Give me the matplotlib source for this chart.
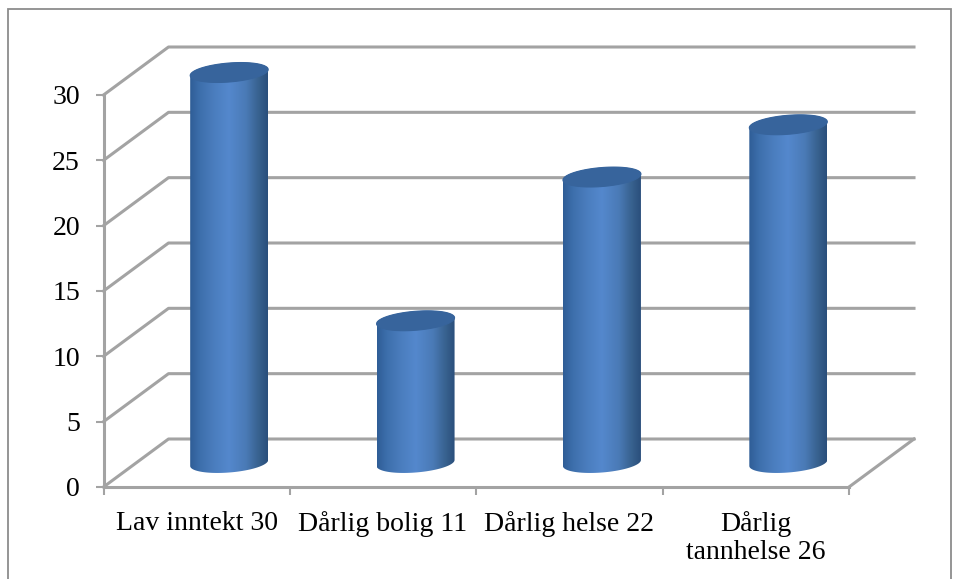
import numpy as np
import matplotlib
matplotlib.use("Agg")
import matplotlib.pyplot as plt
from matplotlib.colors import LinearSegmentedColormap
from matplotlib.patches import PathPatch, Rectangle
from matplotlib.path import Path

# Data
categories = ["Lav inntekt 30", "Dårlig bolig 11", "Dårlig helse 22", "Dårlig\ntannhelse 26"]
values = [30, 11, 22, 26]
y_ticks = [0, 5, 10, 15, 20, 25, 30]

W, H = 960, 579
LEFT, RIGHT = 103.5, 849.0
BOTTOM, TOP = 487.0, 95.0
GREY = "#a3a3a3"

px_x = (RIGHT - LEFT) / len(categories)  # pixels per category
px_y = (BOTTOM - TOP) / max(y_ticks)     # pixels per value unit
DEPTH_X = 65 / px_x
DEPTH_Y = 48 / px_y

plt.rcParams["font.family"] = ["Liberation Serif", "DejaVu Serif"]

fig = plt.figure(figsize=(W / 100, H / 100), dpi=100)
ax = fig.add_axes([LEFT / W, 1 - BOTTOM / H, (RIGHT - LEFT) / W, (BOTTOM - TOP) / H])
ax.patch.set_visible(False)

# outer chart frame
fig.add_artist(Rectangle((8 / W, -0.01), 943 / W, 1.01 - 9 / H, transform=fig.transFigure,
                         facecolor="none", edgecolor="#8c8c8c", linewidth=1.3))

n = len(categories)
ax.set_xlim(0, n)
ax.set_ylim(0, max(y_ticks))

for s in ["top", "right"]:
    ax.spines[s].set_visible(False)
for s in ["left", "bottom"]:
    ax.spines[s].set_color(GREY)
    ax.spines[s].set_linewidth(2.2)

ax.set_yticks(y_ticks)
ax.set_xticks(range(n + 1))
ax.set_xticklabels([])
ax.set_xticks(np.arange(n) + 0.5, categories, minor=True)
ax.tick_params(axis="x", which="major", length=6, width=1.5, color=GREY)
ax.tick_params(axis="x", which="minor", length=0, labelsize=20, pad=17)
ax.tick_params(axis="y", length=6, width=1.5, color=GREY, labelsize=20, pad=11)

# walls and floor of the 3D box
for v in y_ticks:
    ax.plot([0, DEPTH_X, n + DEPTH_X], [v, v + DEPTH_Y, v + DEPTH_Y],
            color=GREY, lw=2.2, clip_on=False, zorder=1)
ax.plot([n, n + DEPTH_X], [0, DEPTH_Y], color=GREY, lw=2.2, clip_on=False, zorder=1)

cmap = LinearSegmentedColormap.from_list(
    "cyl",
    [(0, "#2f5d96"), (0.12, "#3c6eab"), (0.3, "#4a7dbd"), (0.5, "#5488cd"),
     (0.72, "#4a7ab6"), (0.88, "#38628f"), (1, "#2a4f7c")])
grad = np.linspace(0, 1, 256).reshape(1, -1)

A = 39.0   # ellipse half width, px
B = 9.5    # ellipse half height, px
TILT = 3.0 # right side of the ellipse sits higher, px
t = np.linspace(0, 2 * np.pi, 100)

for i, v in enumerate(values):
    cx = i + 0.5 + DEPTH_X / 2
    y0 = DEPTH_Y / 2
    y1 = v + DEPTH_Y / 2 - 1.5 / px_y
    ex = A / px_x * np.cos(t)
    ey = (B * np.sin(t) + TILT * np.cos(t)) / px_y

    # side of the cylinder: top ellipse outline, then lower half of the base
    tb = np.linspace(np.pi, 2 * np.pi, 50)
    bx = cx + A / px_x * np.cos(tb)
    by = y0 + (B * np.sin(tb) + TILT * np.cos(tb)) / px_y
    tt = np.linspace(0, np.pi, 50)
    tx = cx + A / px_x * np.cos(tt)
    ty = y1 + (B * np.sin(tt) + TILT * np.cos(tt)) / px_y
    side = Path(np.column_stack([np.r_[bx, tx], np.r_[by, ty]]))

    patch = PathPatch(side, facecolor="none", edgecolor="none", transform=ax.transData)
    ax.add_patch(patch)
    patch.set_clip_on(False)
    im = ax.imshow(grad, cmap=cmap, aspect="auto", zorder=3,
                   extent=[cx - A / px_x, cx + A / px_x, y0 - 2, y1 + 2])
    im.set_clip_box(fig.bbox)  # the tall bars stick out above the axes
    im.set_clip_path(patch)

    ax.fill(cx + ex, y1 + ey, color="#37649c", lw=0.8, zorder=4, clip_on=False)

ax.set_xlim(0, n)
ax.set_ylim(0, max(y_ticks))

fig.savefig("out.png", dpi=100)
